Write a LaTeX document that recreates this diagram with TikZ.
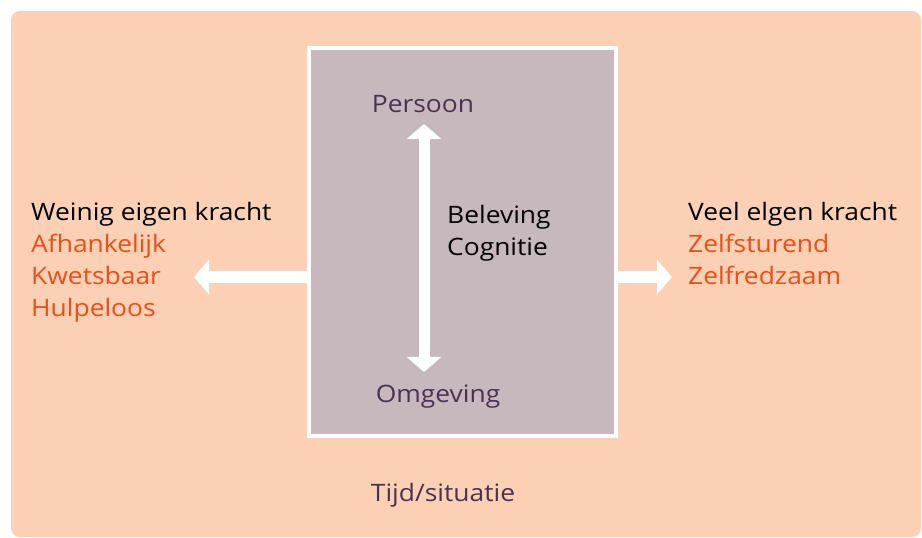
\documentclass[tikz,border=0pt]{standalone}
\usepackage{fontspec}
\setmainfont{Open Sans}[FakeStretch=1.1]
\usetikzlibrary{arrows.meta}
\definecolor{bgpeach}{HTML}{FBD0B4}
\definecolor{boxgray}{HTML}{C6B8BC}
\definecolor{orangetxt}{HTML}{E8501A}
\definecolor{purpletxt}{HTML}{4A3350}
\tikzset{
  lbl/.style={inner sep=0pt, font=\fontsize{24}{32}\selectfont},
  blk/.style={lbl, text=black},
  org/.style={lbl, text=orangetxt},
  pur/.style={lbl, text=purpletxt},
  fatarrow/.style={draw=white, line width=12pt,
    -{Triangle[width=34pt,length=15pt]}},
  fatvarrow/.style={draw=white, line width=11pt,
    {Triangle[width=34pt,length=15pt]}-{Triangle[width=34pt,length=15pt]}}
}
\begin{document}
\begin{tikzpicture}[x=1pt,y=1pt]
\useasboundingbox (0,0) rectangle (922,538);
% background
\fill[bgpeach, rounded corners=9pt] (11,1) rectangle (921,527);
% central box
\node[draw=white, line width=4pt, fill=boxgray, minimum width=307pt, minimum height=388pt, inner sep=0pt, anchor=south west] (box) at (307,100) {};
% left/right arrows
\coordinate (ltip) at (194,261);
\coordinate (rtip) at (672,261);
\draw[fatarrow] (box.west |- ltip) -- (ltip);
\draw[fatarrow] (box.east |- rtip) -- (rtip);
% vertical arrow
\coordinate (vtop) at (424,414);
\coordinate (vbot) at (424,166);
\draw[fatvarrow] (vtop) -- (vbot);
% center texts
\node[pur, anchor=base] (persoon) at (423,425) {Persoon};
\node[pur, anchor=base] (omgeving) at (438,135) {Omgeving};
\node[blk, anchor=base west] (beleving) at (447,314) {Beleving};
\node[blk, anchor=base west] (cognitie) at (447,282) {Cognitie};
% left texts
\node[blk, anchor=base west] (l1) at (31,317) {Weinig eigen kracht};
\node[org, anchor=base west] (l2) at (31,285) {Afhankelijk};
\node[org, anchor=base west] (l3) at (31,253) {Kwetsbaar};
\node[org, anchor=base west] (l4) at (31,221) {Hulpeloos};
% right texts
\node[blk, anchor=base west] (r1) at (688,317) {Veel elgen kracht};
\node[org, anchor=base west] (r2) at (688,285) {Zelfsturend};
\node[org, anchor=base west] (r3) at (688,253) {Zelfredzaam};
% bottom text
\node[pur, anchor=base] (tijd) at (443,36) {Tijd/situatie};
\end{tikzpicture}
\end{document}
